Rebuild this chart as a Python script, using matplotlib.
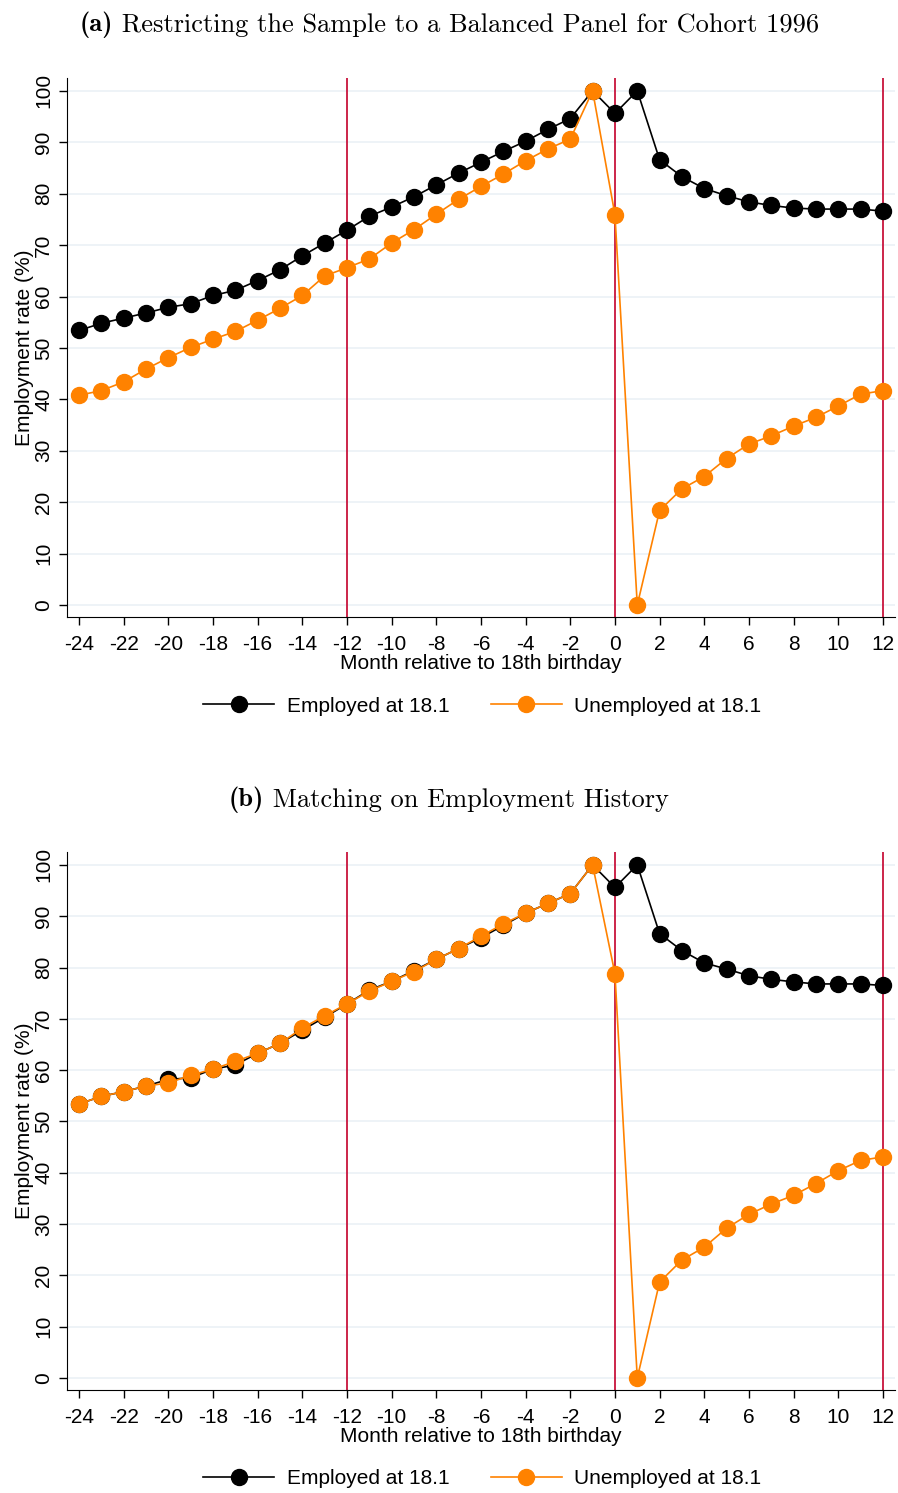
import numpy as np
import matplotlib.pyplot as plt
from matplotlib.lines import Line2D

plt.rcParams['font.family'] = ['Liberation Sans', 'DejaVu Sans']
plt.rcParams['axes.unicode_minus'] = False

months = np.arange(-24, 13)

# panel (a): balanced panel for cohort 1996
emp_a = [53.4, 54.8, 55.8, 56.8, 57.9, 58.6, 60.2, 61.2, 63.1, 65.2, 67.9, 70.4,
         72.9, 75.6, 77.4, 79.4, 81.7, 84.0, 86.1, 88.2, 90.2, 92.5, 94.6, 100.0,
         95.6, 100.0, 86.6, 83.3, 81.0, 79.6, 78.4, 77.7, 77.2, 77.0, 77.0, 77.0, 76.6]
unemp_a = [40.8, 41.7, 43.4, 45.9, 48.1, 50.1, 51.7, 53.2, 55.4, 57.7, 60.2, 64.0,
           65.6, 67.3, 70.4, 73.0, 76.0, 78.9, 81.4, 83.8, 86.4, 88.7, 90.6, 100.0,
           75.9, 0.0, 18.4, 22.6, 25.0, 28.5, 31.3, 32.9, 34.8, 36.5, 38.7, 41.0, 41.7]

# panel (b): matching on employment history
emp_b = [53.4, 54.9, 55.8, 56.9, 58.2, 58.5, 60.2, 61.0, 63.3, 65.2, 67.8, 70.3,
         72.9, 75.6, 77.3, 79.4, 81.6, 83.7, 85.8, 88.2, 90.6, 92.5, 94.4, 100.0,
         95.6, 100.0, 86.6, 83.3, 80.9, 79.7, 78.4, 77.7, 77.2, 76.8, 76.8, 76.8, 76.5]
unemp_b = [53.4, 54.9, 55.8, 56.9, 57.5, 59.0, 60.2, 61.7, 63.3, 65.2, 68.2, 70.6,
           72.9, 75.4, 77.3, 79.2, 81.6, 83.7, 86.1, 88.5, 90.6, 92.5, 94.4, 100.0,
           78.8, 0.0, 18.7, 23.0, 25.5, 29.2, 31.9, 33.9, 35.6, 37.9, 40.4, 42.4, 43.1]

vlines = [-12, 0, 12]
tags = ["(a)", "(b)"]
titles = ["Restricting the Sample to a Balanced Panel for Cohort 1996",
          "Matching on Employment History"]
labels = ["Employed at 18.1", "Unemployed at 18.1"]

orange = '#ff8200'
red = '#c8143c'
fs = 15

fig = plt.figure(figsize=(8.98, 14.93), dpi=100)
renderer = fig.canvas.get_renderer()
boxes = [[0.0746, 0.5867, 0.922, 0.3611], [0.0746, 0.0690, 0.922, 0.3603]]
title_y = [1 - 25 / 1493, 1 - 800 / 1493]
leg_y = [1 - 706 / 1493, 1 - 1479 / 1493]

for i, (emp, unemp) in enumerate([(emp_a, unemp_a), (emp_b, unemp_b)]):
    ax = fig.add_axes(boxes[i])
    for yy in range(0, 101, 10):
        ax.axhline(yy, color='#edf2f7', lw=1.3, zorder=0)
    for xv in vlines:
        ax.axvline(xv, color=red, lw=1.3, zorder=1)
    ax.plot(months, emp, '-o', color='black', lw=1.2, ms=11.5, zorder=3)
    ax.plot(months, unemp, '-o', color=orange, lw=1.2, ms=11.5, zorder=4)
    ax.set_xlim(-24.54, 12.54)
    ax.set_ylim(-2.33, 102.5)
    ax.set_xticks(np.arange(-24, 13, 2))
    ax.set_yticks(np.arange(0, 101, 10))
    ax.set_yticklabels([str(v) for v in range(0, 101, 10)], rotation=90, va='center')
    ax.tick_params(direction='out', length=6, width=1, labelsize=fs)
    ax.tick_params(axis='x', pad=7)
    ax.tick_params(axis='y', pad=4)
    for s in ['top', 'right']:
        ax.spines[s].set_visible(False)
    ax.set_xlabel("Month relative to 18th birthday", fontsize=fs, labelpad=0)
    ax.set_ylabel("Employment rate (%)", fontsize=fs, labelpad=0)

    # title: bold tag + roman text, centred as one line
    t1 = fig.text(0, title_y[i], tags[i], family='cmb10', fontsize=19, va='center')
    t2 = fig.text(0, title_y[i], " " + titles[i], family='cmr10', fontsize=19, va='center')
    w1 = t1.get_window_extent(renderer).width / fig.bbox.width
    w2 = t2.get_window_extent(renderer).width / fig.bbox.width
    x0 = 0.5 - (w1 + w2) / 2
    t1.set_x(x0)
    t2.set_x(x0 + w1)

    handles = [Line2D([], [], color='black', marker='o', ms=11.5, lw=1.2),
               Line2D([], [], color=orange, marker='o', ms=11.5, lw=1.2)]
    fig.legend(handles, labels, loc='center', bbox_to_anchor=(0.537, leg_y[i]),
               ncol=2, frameon=False, fontsize=fs, handlelength=3.4, handletextpad=0.6,
               columnspacing=2.0)

plt.savefig("out.png", dpi=100)
plt.close()
